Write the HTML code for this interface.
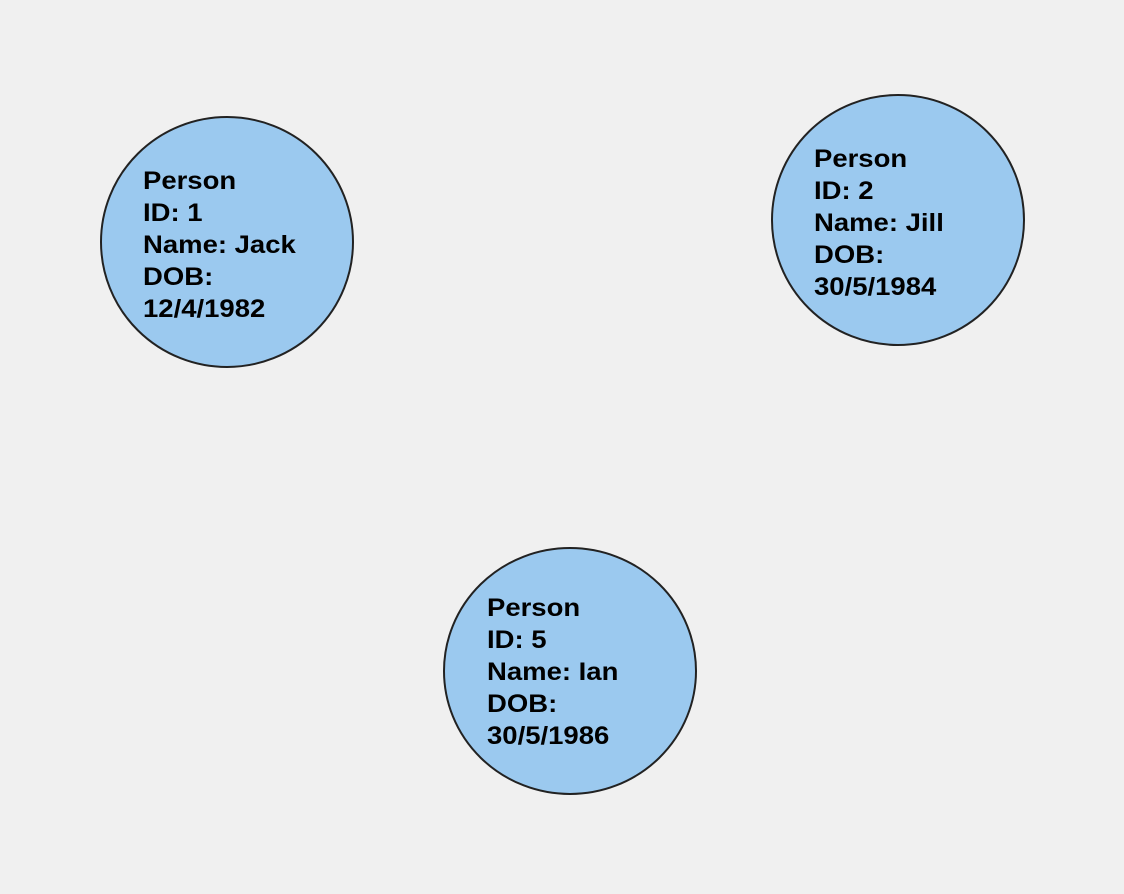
<!DOCTYPE html>
<html><head><meta charset="utf-8"><style>
html,body{margin:0;padding:0;background:#f0f0f0;}
svg{display:block}
text{font-family:"Liberation Sans",Arial,sans-serif;font-weight:bold;font-size:25px;fill:#000}
</style></head><body>
<svg width="1124" height="894" viewBox="0 0 1124 894">
<rect width="1124" height="894" fill="#f0f0f0"/>
<g fill="#9bc9ef" stroke="#222" stroke-width="2">
<ellipse cx="227" cy="242" rx="126" ry="125"/>
<ellipse cx="898" cy="220" rx="126" ry="125"/>
<ellipse cx="570" cy="671" rx="126" ry="123"/>
</g>
<g transform="translate(143,0) scale(1.1,1) translate(-143,0)">
<text x="143" y="189">Person</text>
<text x="143" y="221">ID: 1</text>
<text x="143" y="253">Name: Jack</text>
<text x="143" y="285">DOB:</text>
<text x="143" y="317">12/4/1982</text>
</g>
<g transform="translate(814,0) scale(1.1,1) translate(-814,0)">
<text x="814" y="167">Person</text>
<text x="814" y="199">ID: 2</text>
<text x="814" y="231">Name: Jill</text>
<text x="814" y="263">DOB:</text>
<text x="814" y="295">30/5/1984</text>
</g>
<g transform="translate(487,0) scale(1.1,1) translate(-487,0)">
<text x="487" y="616">Person</text>
<text x="487" y="648">ID: 5</text>
<text x="487" y="680">Name: Ian</text>
<text x="487" y="712">DOB:</text>
<text x="487" y="744">30/5/1986</text>
</g>
</svg>
</body></html>
